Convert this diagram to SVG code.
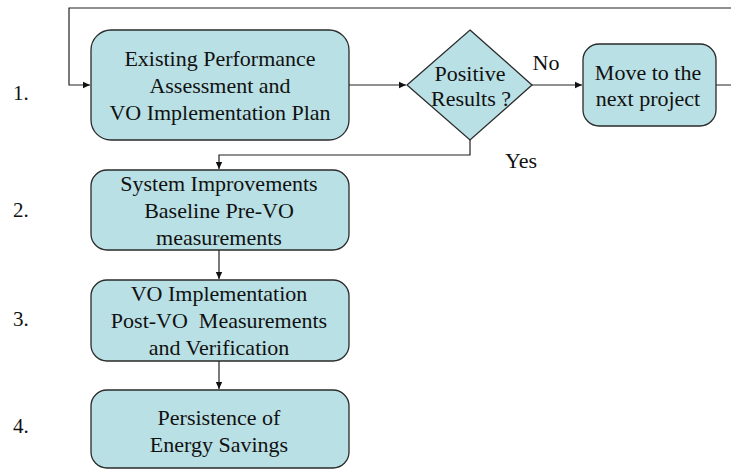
<svg xmlns="http://www.w3.org/2000/svg" width="731" height="470" viewBox="0 0 731 470">
  <style>
    .box { fill: #b9e0e4; stroke: #2a2a2a; stroke-width: 1.3; }
    .lbl { font-family: "Liberation Serif", "Times New Roman", serif; font-size: 22px; fill: #111; text-anchor: middle; }
    .num { font-family: "Liberation Serif", "Times New Roman", serif; font-size: 21px; fill: #111; }
    .edge { fill: none; stroke: #222; stroke-width: 1.2; }
  </style>
  <defs>
    <marker id="arrow" markerWidth="8" markerHeight="8" refX="7" refY="4" orient="auto" markerUnits="userSpaceOnUse">
      <path d="M0,0.8 L7,4 L0,7.2 Z" fill="#111"/>
    </marker>
  </defs>
  <rect width="731" height="470" fill="#ffffff"/>

  <!-- step numbers -->
  <g id="step-numbers">
    <text class="num" x="13" y="100">1.</text>
    <text class="num" x="13" y="217">2.</text>
    <text class="num" x="13" y="326">3.</text>
    <text class="num" x="13" y="433">4.</text>
  </g>

  <!-- connectors -->
  <g id="connectors">
    <path class="edge" d="M349,85 H406" marker-end="url(#arrow)"/>
    <path class="edge" d="M532,85 H582" marker-end="url(#arrow)"/>
    <path class="edge" d="M716,85 H740 V8 H69 V85 H90" marker-end="url(#arrow)"/>
    <path class="edge" d="M470,140 V155 H219 V169" marker-end="url(#arrow)"/>
    <path class="edge" d="M219,250 V279" marker-end="url(#arrow)"/>
    <path class="edge" d="M219,361 V389" marker-end="url(#arrow)"/>
    <text class="lbl" x="546" y="70">No</text>
    <text class="lbl" x="521" y="168">Yes</text>
  </g>

  <g id="assessment">
    <rect class="box" x="91" y="30" width="258" height="110" rx="20"/>
    <text class="lbl" x="220" y="66">Existing Performance</text>
    <text class="lbl" x="220" y="93">Assessment and</text>
    <text class="lbl" x="220" y="120">VO Implementation Plan</text>
  </g>

  <g id="decision">
    <polygon class="box" points="470,30 532,85 470,140 407,85"/>
    <text class="lbl" x="470" y="81">Positive</text>
    <text class="lbl" x="471" y="106">Results ?</text>
  </g>

  <g id="next-project">
    <rect class="box" x="583" y="44" width="133" height="82" rx="16"/>
    <text class="lbl" x="648" y="80">Move to the</text>
    <text class="lbl" x="648" y="106">next project</text>
  </g>

  <g id="baseline">
    <rect class="box" x="91" y="170" width="258" height="80" rx="16"/>
    <text class="lbl" x="219" y="191">System Improvements</text>
    <text class="lbl" x="219" y="218">Baseline Pre-VO</text>
    <text class="lbl" x="219" y="245">measurements</text>
  </g>

  <g id="implementation">
    <rect class="box" x="91" y="280" width="258" height="81" rx="16"/>
    <text class="lbl" x="219" y="301">VO Implementation</text>
    <text class="lbl" x="219" y="328" xml:space="preserve">Post-VO  Measurements</text>
    <text class="lbl" x="219" y="355">and Verification</text>
  </g>

  <g id="persistence">
    <rect class="box" x="91" y="390" width="258" height="78" rx="16"/>
    <text class="lbl" x="219" y="425">Persistence of</text>
    <text class="lbl" x="219" y="452">Energy Savings</text>
  </g>
</svg>
